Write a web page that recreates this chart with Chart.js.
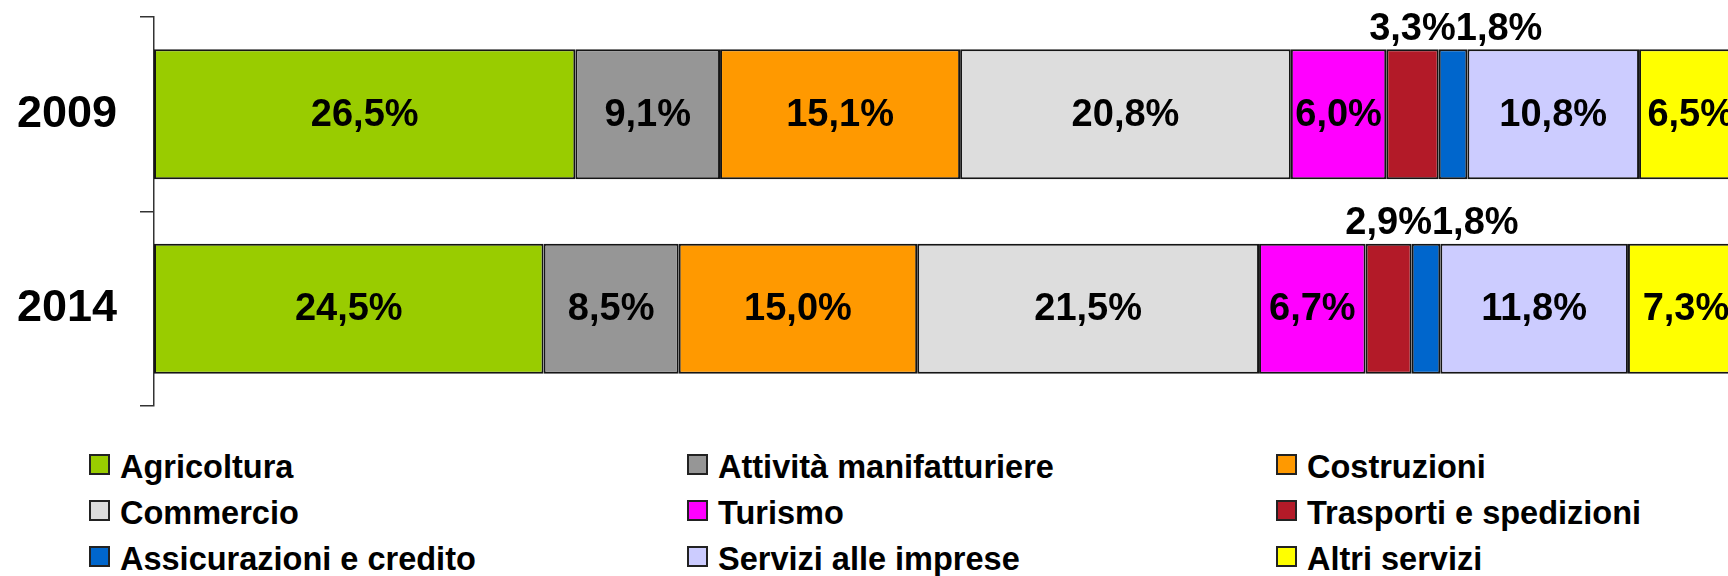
<!DOCTYPE html>
<html>
<head>
<meta charset="utf-8">
<script src="https://cdn.jsdelivr.net/npm/chart.js@4.4.1/dist/chart.umd.min.js"></script>
<style>
    html, body { margin: 0; padding: 0; background: #fff; overflow: hidden; width: 1728px; height: 576px; }
    #wrap { position: relative; width: 1728px; height: 576px; overflow: hidden; }
    #chartSettori { position: absolute; left: 0; top: 0; }
    #legenda {
        position: absolute; left: 89px; top: 444px;
        display: grid; grid-template-columns: 598px 589px auto; grid-auto-rows: 46px;
        font-family: 'Liberation Sans', Arial, sans-serif; font-weight: bold; font-size: 32.5px; color: #000;
    }
    #legenda .item { display: flex; align-items: center; white-space: nowrap; }
    #legenda .box { width: 17px; height: 17px; border: 2px solid #222; margin-right: 10px; margin-top: -6px; }
</style>
</head>
<body>
<div id="wrap">
    <canvas id="chartSettori" width="1760" height="430"></canvas>
    <div id="legenda"></div>
</div>
<script>
var anni = ['2009', '2014'];
var settori = [
    'Agricoltura',
    'Attività manifatturiere',
    'Costruzioni',
    'Commercio',
    'Turismo',
    'Trasporti e spedizioni',
    'Assicurazioni e credito',
    'Servizi alle imprese',
    'Altri servizi'
];
var valori2009 = [26.5, 9.1, 15.1, 20.8, 6.0, 3.3, 1.8, 10.8, 6.5];
var valori2014 = [24.5, 8.5, 15.0, 21.5, 6.7, 2.9, 1.8, 11.8, 7.3];
var colori = ['#99cc00', '#969696', '#ff9900', '#dddddd', '#ff00ff', '#b31a28', '#0066cc', '#ccccff', '#ffff00'];

var font = "'Liberation Sans', Arial, sans-serif";
Chart.defaults.font.family = font;

var datasets = settori.map(function (nome, i) {
    return {
        label: nome,
        data: [valori2009[i], valori2014[i]],
        backgroundColor: colori[i],
        borderColor: '#151515',
        borderWidth: 2,
        borderSkipped: false,
        categoryPercentage: 1,
        barPercentage: 0.668
    };
});

function formatta(v) {
    return v.toFixed(1).replace('.', ',') + '%';
}

// etichette percentuali: dentro la barra, sopra se il segmento e' troppo stretto
var etichette = {
    id: 'etichette',
    afterDatasetsDraw: function (chart) {
        var ctx = chart.ctx;
        ctx.save();
        ctx.font = 'bold 38px ' + font;
        ctx.fillStyle = '#000';
        ctx.textBaseline = 'middle';
        ctx.textAlign = 'left';
        var fineSopra = {};
        chart.data.datasets.forEach(function (ds, di) {
            var meta = chart.getDatasetMeta(di);
            meta.data.forEach(function (bar, i) {
                var v = ds.data[i];
                var testo = formatta(v);
                var w = ctx.measureText(testo).width;
                var cx = (bar.x + bar.base) / 2;
                if (v < 4) {
                    var x0 = cx - w / 2;
                    if (fineSopra[i] !== undefined && x0 < fineSopra[i]) x0 = fineSopra[i];
                    ctx.fillText(testo, x0, bar.y - bar.height / 2 - 20);
                    fineSopra[i] = x0 + w;
                } else {
                    ctx.fillText(testo, cx - w / 2, bar.y + 1);
                }
            });
        });
        ctx.restore();
    }
};

var ctx = document.getElementById('chartSettori').getContext('2d');
var chart = new Chart(ctx, {
    type: 'bar',
    data: { labels: anni, datasets: datasets },
    options: {
        indexAxis: 'y',
        responsive: false,
        animation: false,
        layout: { padding: { left: 17, right: 16, top: 17, bottom: 24 } },
        plugins: {
            legend: { display: false },
            tooltip: { enabled: false }
        },
        scales: {
            x: { stacked: true, min: 0, max: 100, display: false },
            y: {
                stacked: true,
                offset: true,
                grid: { offset: true, drawOnChartArea: false, tickLength: 14, color: '#333', lineWidth: 1.5 },
                border: { color: '#333', width: 1.5 },
                ticks: { color: '#000', padding: 23, font: { size: 45, weight: 'bold' } },
                afterFit: function (scale) {
                    scale.width = 137;
                    scale.paddingTop = 0;
                    scale.paddingBottom = 0;
                }
            }
        }
    },
    plugins: [etichette]
});

var legenda = document.getElementById('legenda');
settori.forEach(function (nome, i) {
    var item = document.createElement('div');
    item.className = 'item';
    var box = document.createElement('span');
    box.className = 'box';
    box.style.background = colori[i];
    var txt = document.createElement('span');
    txt.textContent = nome;
    item.appendChild(box);
    item.appendChild(txt);
    legenda.appendChild(item);
});
</script>
</body>
</html>
